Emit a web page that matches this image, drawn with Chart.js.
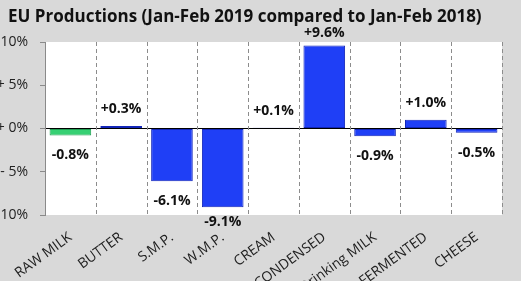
<!DOCTYPE html>
<html lang="en">
<head>
  <meta charset="UTF-8">
  <title>EU Productions</title>
  <script src="https://cdn.jsdelivr.net/npm/chart.js"></script>
  <style>
    html, body { margin: 0; padding: 0; background: #d9d9d9; }
    #wrap { position: relative; width: 521px; height: 281px; overflow: hidden; }
  </style>
</head>
<body>
  <div id="wrap">
    <canvas id="prod-chart" width="521" height="281"></canvas>
  </div>
  <script>
    const chartTitle = 'EU Productions (Jan-Feb 2019 compared to Jan-Feb 2018)';
    const categories = ['RAW MILK', 'BUTTER', 'S.M.P.', 'W.M.P.', 'CREAM', 'CONDENSED', 'Drinking MILK', 'FERMENTED', 'CHEESE'];
    const changes = [-0.8, 0.3, -6.1, -9.1, 0.1, 9.6, -0.9, 1.0, -0.5];
    const yTicks = [-10, -5, 0, 5, 10];

    const FONT = '"Open Sans", Lato, sans-serif';

    const fmtTick = v => {
      if (v === 0) return '+ 0%';
      const a = Math.abs(v);
      return (v > 0 ? '+' : '-') + (a < 10 ? ' ' : '') + a + '%';
    };
    const fmtLabel = v => (v > 0 ? '+' : '') + v.toFixed(1) + '%';

    // white plot area, title, dashed category separators
    const plotBg = {
      id: 'plotBg',
      beforeDraw(chart) {
        const { ctx, chartArea: a } = chart;
        ctx.save();
        ctx.fillStyle = '#ffffff';
        ctx.fillRect(a.left, a.top, a.right - a.left, a.bottom - a.top);
        ctx.font = 'bold 17px ' + FONT;
        ctx.fillStyle = '#111';
        ctx.textAlign = 'left';
        ctx.textBaseline = 'middle';
        ctx.fillText(chartTitle, 8, 17);
        ctx.restore();
      },
      beforeDatasetsDraw(chart) {
        const { ctx, chartArea: a, scales: { x } } = chart;
        const step = (a.right - a.left) / categories.length;
        ctx.save();
        ctx.strokeStyle = '#8c8c8c';
        ctx.lineWidth = 1;
        ctx.setLineDash([4, 3]);
        for (let i = 1; i <= categories.length; i++) {
          const px = Math.round(x.getPixelForValue(i - 1) + step / 2) + 0.5;
          ctx.beginPath();
          ctx.moveTo(px, a.top);
          ctx.lineTo(px, a.bottom);
          ctx.stroke();
        }
        ctx.restore();
      }
    };

    // value labels outside bar ends
    const valueLabels = {
      id: 'valueLabels',
      afterDatasetsDraw(chart) {
        const { ctx } = chart;
        const meta = chart.getDatasetMeta(0);
        ctx.save();
        ctx.font = 'bold 14px ' + FONT;
        ctx.fillStyle = '#111';
        ctx.textAlign = 'center';
        ctx.textBaseline = 'middle';
        meta.data.forEach((bar, i) => {
          const v = changes[i];
          let y = v >= 0 ? bar.y - 17 : bar.y + 20;
          y = Math.max(33, Math.min(222, y));
          ctx.fillText(fmtLabel(v), bar.x, y);
        });
        ctx.restore();
      }
    };

    new Chart(document.getElementById('prod-chart'), {
      type: 'bar',
      data: {
        labels: categories,
        datasets: [{
          data: changes,
          backgroundColor: changes.map((v, i) => i === 0 ? '#36d073' : '#1f3ff6'),
          borderColor: changes.map((v, i) => i === 0 ? '#1f9e52' : '#1225b8'),
          borderWidth: 1,
          borderSkipped: false,
          barPercentage: 0.82,
          categoryPercentage: 1
        }]
      },
      options: {
        responsive: false,
        animation: false,
        layout: { padding: { left: 0, right: 19, top: 42, bottom: 0 } },
        plugins: {
          legend: { display: false },
          tooltip: { enabled: false },
          title: { display: false }
        },
        scales: {
          x: {
            afterFit(scale) { scale.height = 66; },
            grid: { display: false },
            border: { display: false },
            ticks: {
              color: '#222',
              font: { family: FONT, size: 14 },
              maxRotation: 36,
              minRotation: 36,
              padding: 6
            }
          },
          y: {
            min: -10,
            max: 10,
            afterFit(scale) { scale.width = 45; },
            afterBuildTicks(scale) { scale.ticks = yTicks.map(v => ({ value: v })); },
            grid: {
              color: c => c.tick && c.tick.value === 0 ? '#000' : 'rgba(0,0,0,0)',
              tickColor: '#8a8a8a',
              tickLength: 5,
              lineWidth: 1
            },
            border: { display: true, color: '#8a8a8a' },
            ticks: {
              color: '#222',
              font: { family: FONT, size: 14 },
              padding: 12,
              callback: v => fmtTick(v)
            }
          }
        }
      },
      plugins: [plotBg, valueLabels]
    });
  </script>
</body>
</html>
